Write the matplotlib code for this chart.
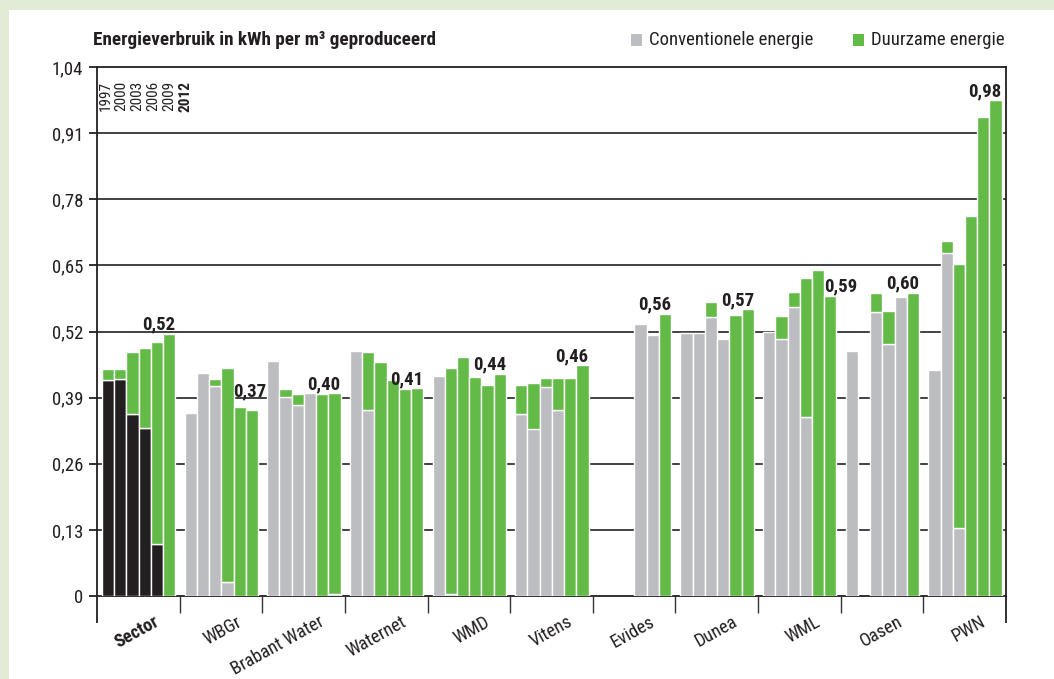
import matplotlib
matplotlib.use("Agg")
import matplotlib.pyplot as plt
from matplotlib.patches import Rectangle
import matplotlib.transforms as mtransforms

plt.rcParams['font.family'] = ['Roboto Condensed', 'DejaVu Sans']

# data (kWh per m3), one row per company, columns = years
groups = ['Sector', 'WBGr', 'Brabant Water', 'Waternet', 'WMD', 'Vitens',
          'Evides', 'Dunea', 'WML', 'Oasen', 'PWN']
years = ['1997', '2000', '2003', '2006', '2009', '2012']

# None = no bar for that year
conventioneel = [
    [0.424, 0.426, 0.358, 0.331, 0.103, 0.0],
    [0.360, 0.439, 0.412, 0.027, 0.0, 0.0],
    [0.462, 0.392, 0.376, 0.399, 0.0, 0.003],
    [0.482, 0.366, 0.0, 0.0, 0.0, 0.0],
    [0.432, 0.004, 0.0, 0.0, 0.0, 0.0],
    [0.357, 0.328, 0.411, 0.366, 0.0, 0.0],
    [None, None, None, 0.535, 0.513, 0.0],
    [0.518, 0.517, 0.549, 0.506, 0.0, 0.0],
    [0.519, 0.505, 0.568, 0.352, 0.0, 0.0],
    [0.482, None, 0.559, 0.495, 0.588, 0.0],
    [0.445, 0.675, 0.134, 0.0, 0.0, 0.0],
]
duurzaam = [
    [0.023, 0.021, 0.121, 0.157, 0.396, 0.516],
    [0.0, 0.0, 0.014, 0.422, 0.371, 0.365],
    [0.0, 0.014, 0.021, 0.0, 0.397, 0.396],
    [0.0, 0.113, 0.460, 0.425, 0.406, 0.408],
    [0.0, 0.444, 0.470, 0.430, 0.414, 0.437],
    [0.057, 0.091, 0.018, 0.062, 0.428, 0.454],
    [None, None, None, 0.0, 0.0, 0.555],
    [0.0, 0.0, 0.029, 0.0, 0.553, 0.564],
    [0.0, 0.046, 0.029, 0.274, 0.641, 0.590],
    [0.0, None, 0.036, 0.066, 0.0, 0.596],
    [0.0, 0.022, 0.519, 0.747, 0.942, 0.975],
]
waarde_2012 = [0.52, 0.37, 0.40, 0.41, 0.44, 0.46, 0.56, 0.57, 0.59, 0.60, 0.98]

GRAY = '#bcbdc0'
GREEN = '#63ba47'
BLACK = '#231f20'
LINE = '#333333'

fig = plt.figure(figsize=(10.54, 6.79), dpi=100)
fig.patch.set_facecolor('white')
# light green frame on the left and top
fig.patches.append(Rectangle((0, 0), 9 / 1054, 1, transform=fig.transFigure,
                             facecolor='#e2ebd6', edgecolor='none', zorder=0))
fig.patches.append(Rectangle((0, 669 / 679), 1, 10 / 679, transform=fig.transFigure,
                             facecolor='#e2ebd6', edgecolor='none', zorder=0))

ax = fig.add_axes([97 / 1054, 83 / 679, 909 / 1054, 529 / 679])

slot = 0.148
offset = 0.06

for g in range(len(groups)):
    for i in range(len(years)):
        c = conventioneel[g][i]
        d = duurzaam[g][i]
        if c is None:
            continue
        x = g + offset + i * slot
        col = BLACK if g == 0 else GRAY
        if c > 0:
            ax.bar(x, c, width=slot, align='edge', color=col,
                   edgecolor='white', linewidth=1.0, zorder=3)
        if d > 0:
            ax.bar(x, d, bottom=c, width=slot, align='edge', color=GREEN,
                   edgecolor='white', linewidth=1.0, zorder=3)

# value labels of 2012
for g in range(len(groups)):
    txt = f"{waarde_2012[g]:.2f}".replace('.', ',')
    if g == 1:
        x = g + offset + 4 * slot
        top = duurzaam[g][4] + conventioneel[g][4] + 0.022
        ha = 'left'
    elif g == 8:
        x = g + offset + 5 * slot
        top = duurzaam[g][5] + conventioneel[g][5] + 0.008
        ha = 'left'
    else:
        x = g + offset + 6 * slot
        top = duurzaam[g][5] + conventioneel[g][5] + 0.008
        ha = 'right'
    ax.text(x, top, txt, ha=ha, va='baseline', fontsize=13.5,
            fontweight='bold', color='#231f20', zorder=5)

# year legend inside sector group
for i, y in enumerate(years):
    ax.text(0.1 + i * 0.195, 1.012, y, rotation=90, ha='center', va='top',
            fontsize=11, fontweight='bold' if y == '2012' else 'normal',
            color='#231f20')

ax.set_xlim(0, len(groups))
ax.set_ylim(0, 1.04)
yt = [0, 0.13, 0.26, 0.39, 0.52, 0.65, 0.78, 0.91, 1.04]
ax.set_yticks(yt)
ax.set_yticklabels(['0' if v == 0 else f"{v:.2f}".replace('.', ',') for v in yt],
                   fontsize=13.5, color='#231f20')
for v in yt[1:-1]:
    ax.axhline(v, color=LINE, linewidth=1.3, zorder=1)

ax.set_xticks(range(1, len(groups)))
ax.set_xticks([0, len(groups)], minor=True)
ax.set_xticklabels([])
ax.tick_params(axis='x', which='major', length=12, width=1.0, color=LINE, direction='out')
ax.tick_params(axis='x', which='minor', length=19.5, width=1.3, color='#231f20', direction='out')
ax.tick_params(axis='y', length=6, width=1.3, color='#231f20', pad=4)

for s in ax.spines.values():
    s.set_linewidth(1.3)
    s.set_color('#231f20')

# group names
shift = mtransforms.offset_copy(ax.transData, fig=fig, x=0, y=-17, units='dots')
for g, name in enumerate(groups):
    ax.text(g + 0.68, 0, name, transform=shift, rotation=29, rotation_mode='anchor',
            ha='right', va='top', fontsize=13.2, color='#231f20',
            fontweight='bold' if g == 0 else 'normal')

# title and legend
fig.text(93 / 1054, 1 - 40 / 679, 'Energieverbruik in kWh per m³ geproduceerd',
         ha='left', va='center', fontsize=13.8, fontweight='bold', color='#231f20')
fig.patches.append(Rectangle((631 / 1054, 1 - 46 / 679), 11 / 1054, 12 / 679,
                             transform=fig.transFigure, facecolor=GRAY, edgecolor='none'))
fig.text(649 / 1054, 1 - 40 / 679, 'Conventionele energie', ha='left', va='center',
         fontsize=13.5, color='#231f20')
fig.patches.append(Rectangle((853 / 1054, 1 - 46 / 679), 11 / 1054, 12 / 679,
                             transform=fig.transFigure, facecolor=GREEN, edgecolor='none'))
fig.text(871 / 1054, 1 - 40 / 679, 'Duurzame energie', ha='left', va='center',
         fontsize=13.5, color='#231f20')

fig.savefig('out.png', dpi=100)
